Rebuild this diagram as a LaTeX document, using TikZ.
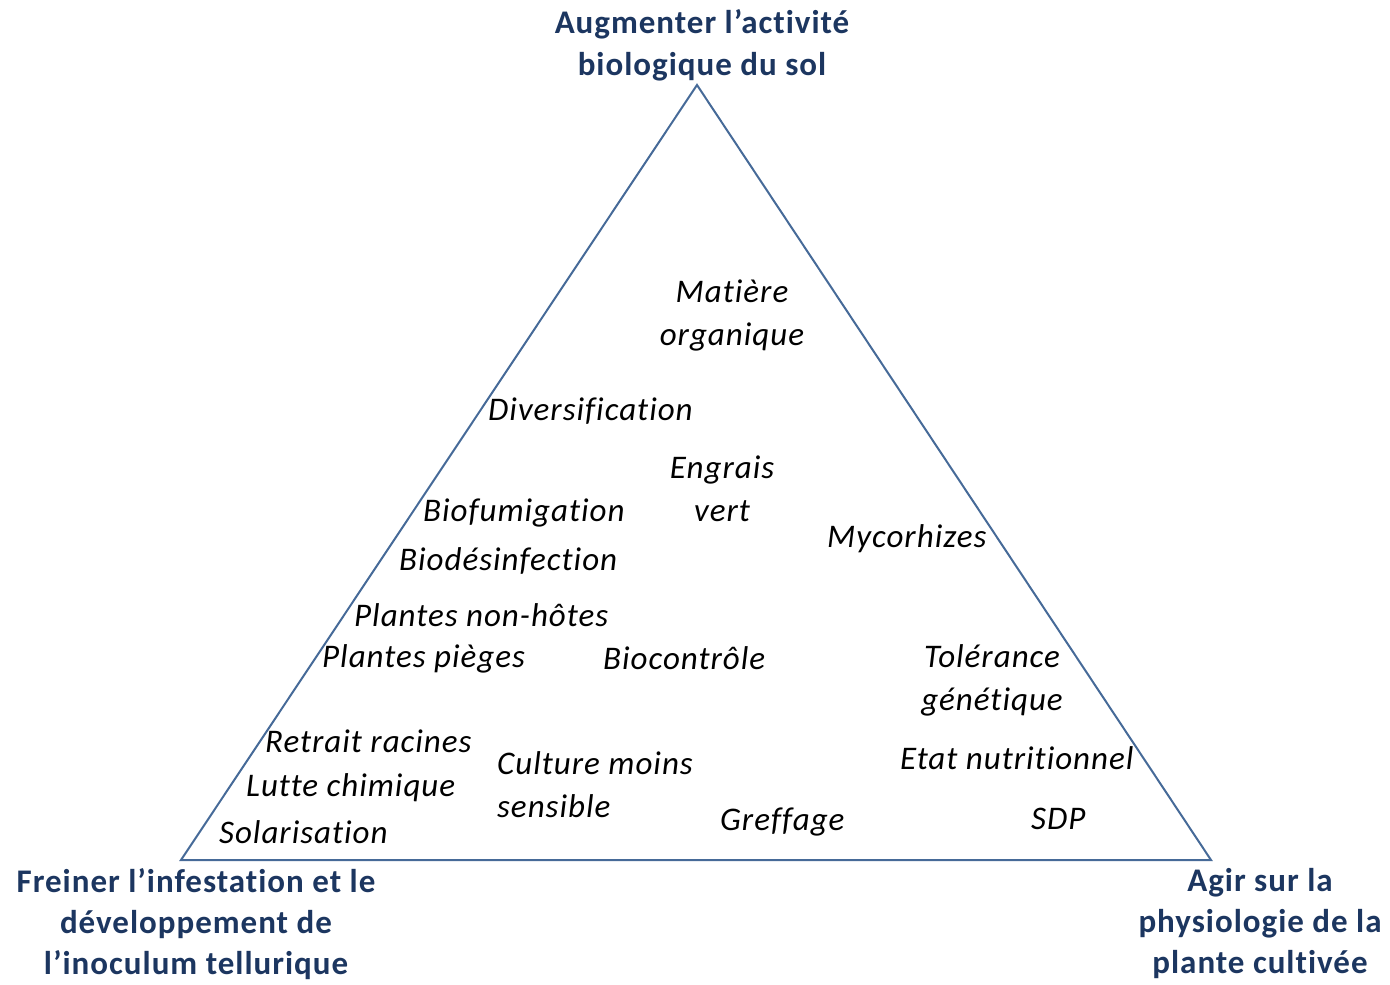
\documentclass[tikz,border=0pt]{standalone}
\usepackage{fontspec}
\setmainfont{Carlito}[Ligatures=NoCommon, LetterSpace=3]
\definecolor{cornerblue}{RGB}{28,54,96}
\definecolor{edgeblue}{RGB}{70,106,152}
\begin{document}
\begin{tikzpicture}[x=1pt,y=-1pt,
  lever/.style={font=\fontsize{33}{43}\selectfont\itshape, text=black, inner sep=0pt, anchor=west},
  levermid/.style={font=\fontsize{33}{43}\selectfont\itshape, text=black, inner sep=0pt, align=center},
  goal/.style={font=\fontsize{33}{42}\selectfont\bfseries, text=cornerblue, inner sep=0pt, align=center},
  lowgoal/.style={goal, font=\fontsize{33}{41}\selectfont\bfseries},
  edge/.style={draw=edgeblue, line width=2pt, line join=miter}]
\useasboundingbox (0,0) rectangle (1390,985);

% triangle of objectives
\coordinate (apex) at (697,85);
\coordinate (left) at (181,860);
\coordinate (right) at (1211,860);
\draw[edge] (apex) -- (right) -- (left) -- cycle;

% objectives at the corners
\node[goal] (top) at (702,45) {Augmenter l’activité\\biologique du sol};
\node[lowgoal] (botleft) at (196,924) {Freiner l’infestation et le\\développement de\\l’inoculum tellurique};
\node[lowgoal] (botright) at (1260,924) {Agir sur la\\physiologie de la\\plante cultivée};

% levers inside the triangle
\node[levermid] (mo) at (732,315) {Matière\\organique};
\node[lever] (div) at (488,411) {Diversification};
\node[levermid] (ev) at (722,489) {Engrais\\vert};
\node[lever] (biof) at (423,513) {Biofumigation};
\node[lever] (myc) at (827,539) {Mycorhizes};
\node[lever] (biod) at (399,561) {Biodésinfection};
\node[lever] (pnh) at (354,615) {Plantes non-hôtes};
\node[lever] (pp) at (322,659) {Plantes pièges};
\node[lever] (bioc) at (603,658) {Biocontrôle};
\node[levermid] (tol) at (992,680) {Tolérance\\génétique};
\node[lever] (ret) at (265,741) {Retrait racines};
\node[lever, align=left] (cms) at (497,785) {Culture moins\\sensible};
\node[lever] (etat) at (900,758) {Etat nutritionnel};
\node[lever] (lutte) at (246,788) {Lutte chimique};
\node[lever] (sdp) at (1031,819) {SDP};
\node[lever] (gref) at (720,822) {Greffage};
\node[lever] (sol) at (219,832) {Solarisation};
\end{tikzpicture}
\end{document}
